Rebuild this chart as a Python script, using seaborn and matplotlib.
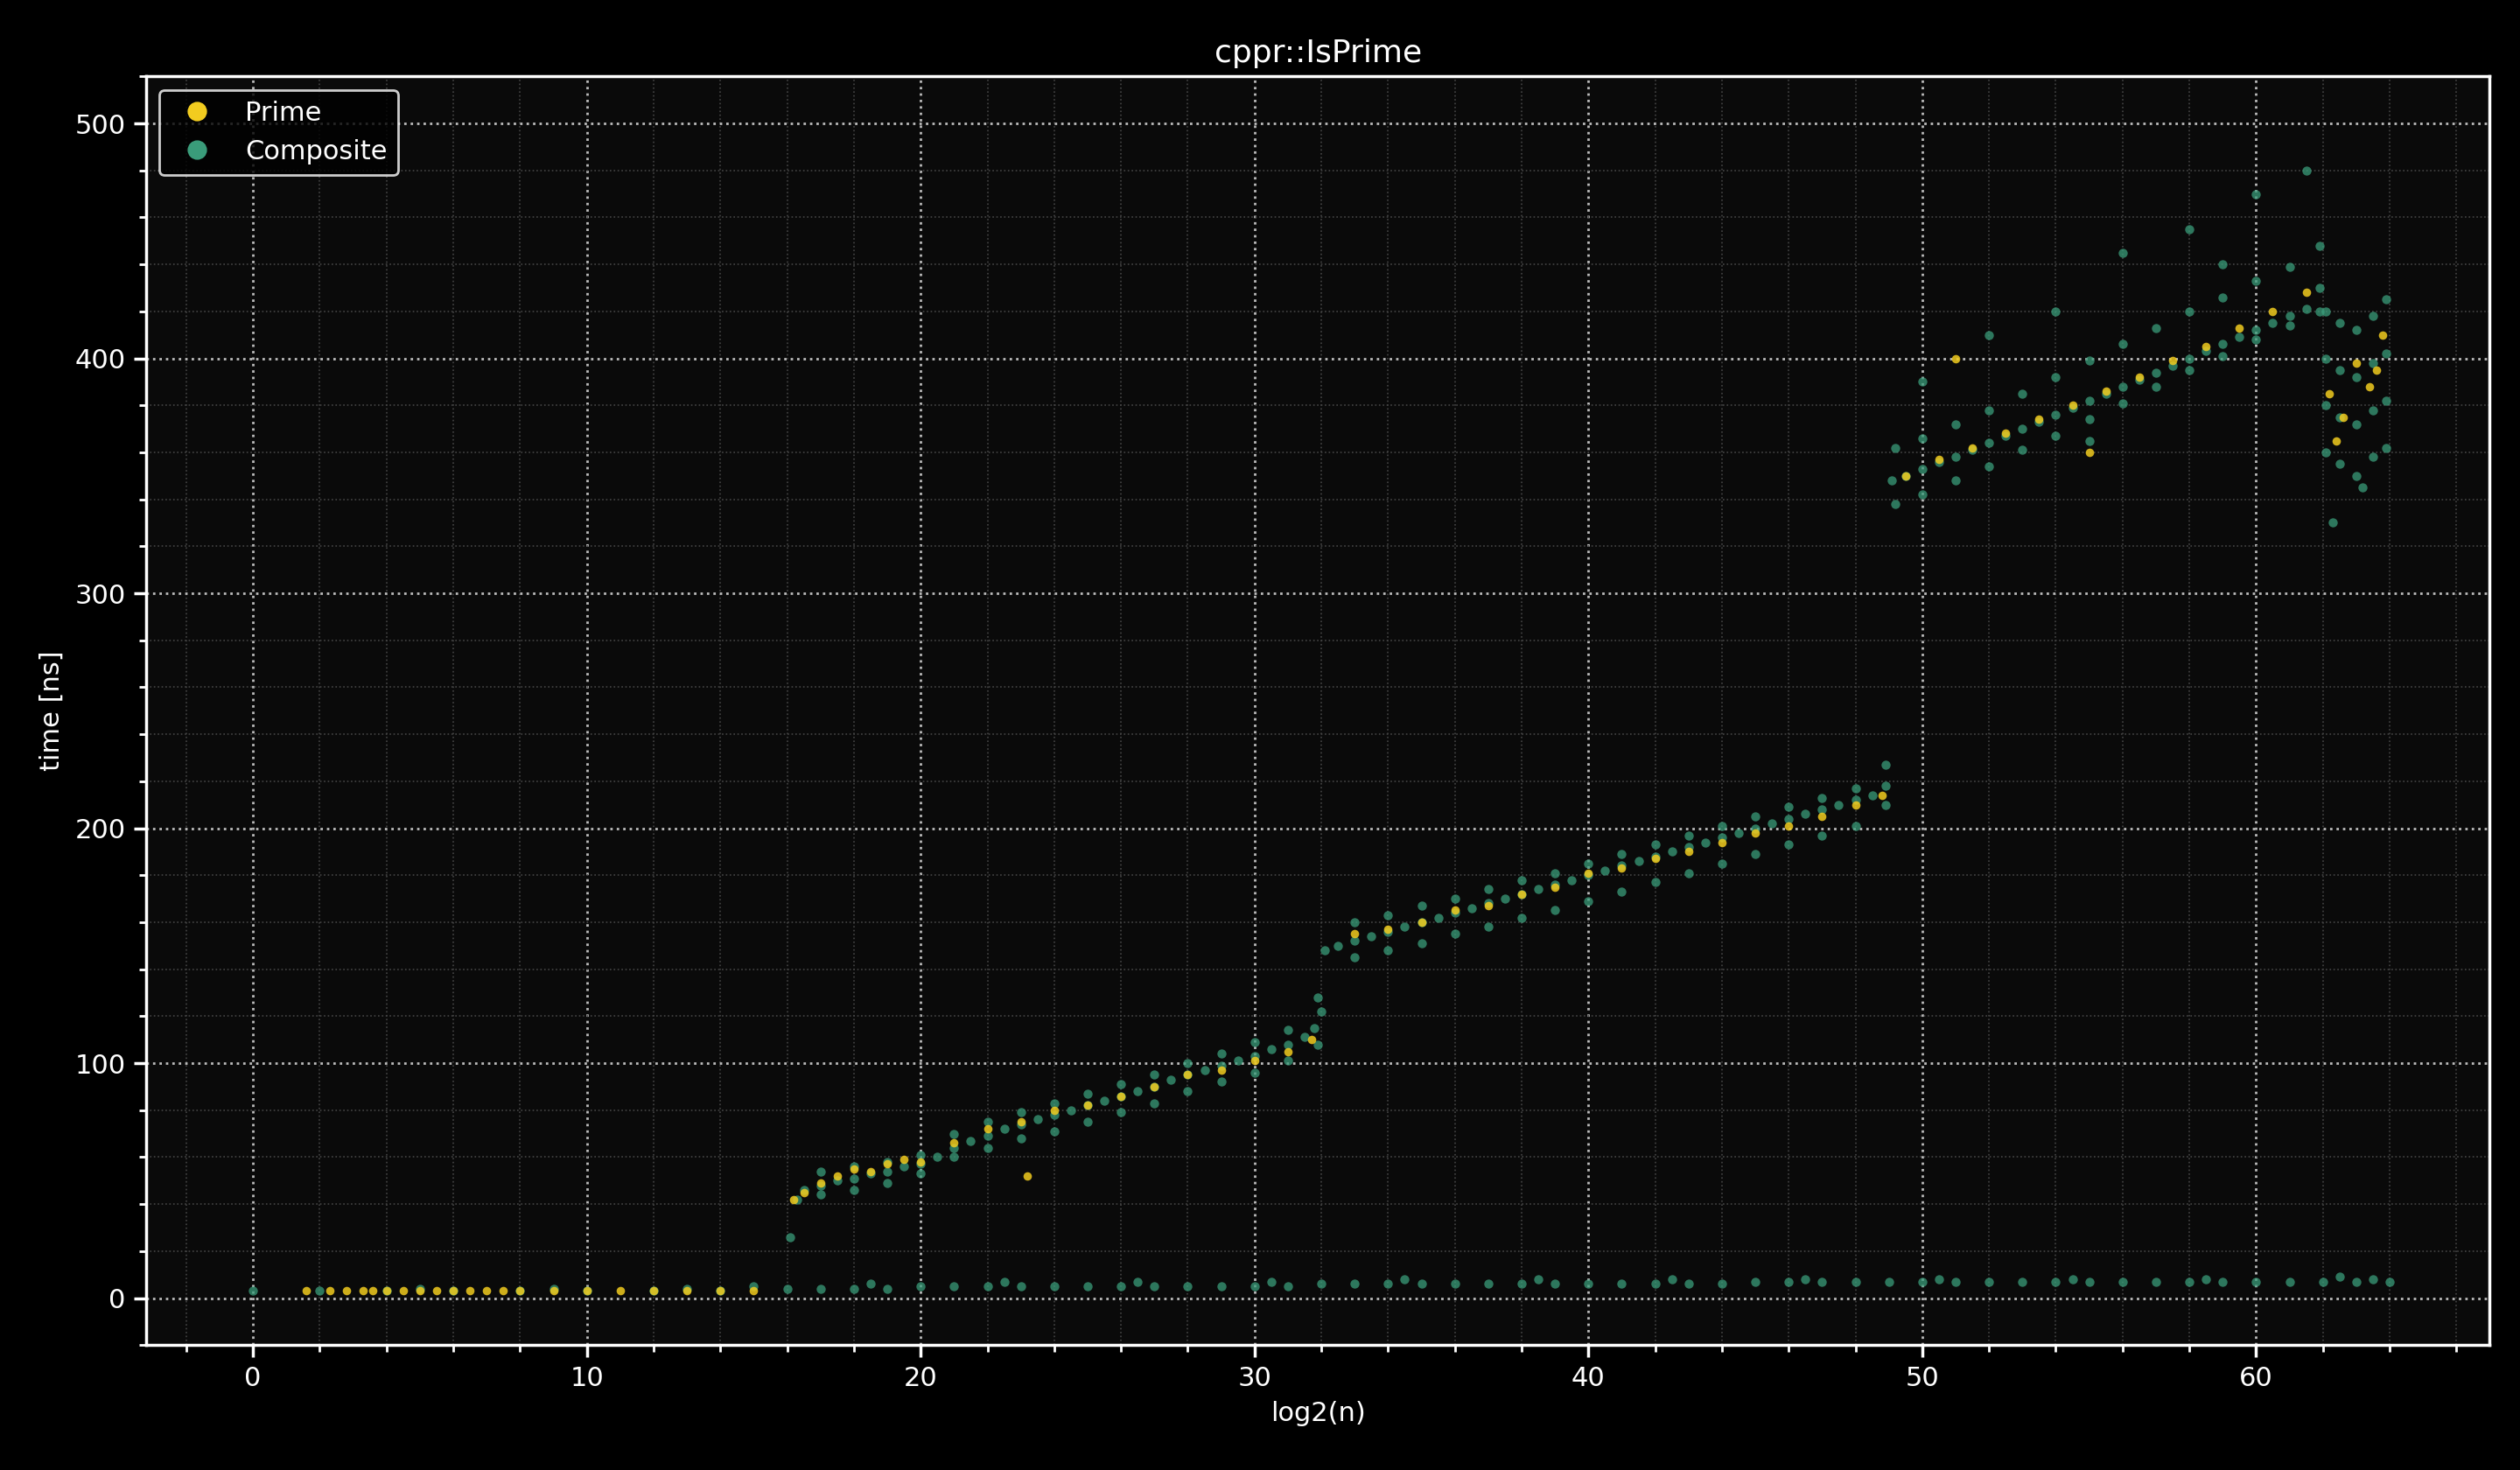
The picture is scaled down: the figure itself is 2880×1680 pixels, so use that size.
import matplotlib
matplotlib.use("Agg")
import matplotlib.pyplot as plt
import seaborn as sns
import pandas as pd
from matplotlib.ticker import MultipleLocator

# Composite points (log2(n), time ns)
comp_x = [0, 2, 4, 6, 8, 10, 12, 14, 16, 17, 18, 19, 20, 21, 22, 23, 24, 25, 26, 27, 28, 29, 30, 31, 32,
          33, 34, 35, 36, 37, 38, 39, 40, 41, 42, 43, 44, 45, 46, 47, 48, 49, 50, 51, 52, 53, 54, 55, 56, 57, 58, 59, 60, 61, 62, 63, 64,
          5, 9, 13, 15, 18.5, 22.5, 26.5, 30.5, 34.5, 38.5, 42.5, 46.5, 50.5, 54.5, 58.5, 62.5, 63.5,
          16.1, 16.3, 16.5, 17, 17.5, 18, 18.5, 19, 19.5, 20, 20.5, 21, 21.5, 22, 22.5, 23, 23.5, 24, 24.5, 25, 25.5, 26, 26.5, 27, 27.5, 28, 28.5, 29, 29.5, 30, 30.5, 31, 31.5, 31.8, 32,
          17, 18, 19, 20, 21, 22, 23, 24, 25, 26, 27, 28, 29, 30, 31, 31.9,
          17, 18, 19, 20, 21, 22, 23, 24, 25, 26, 27, 28, 29, 30, 31, 31.9,
          32.1, 32.5, 33, 33.5, 34, 34.5, 35, 35.5, 36, 36.5, 37, 37.5, 38, 38.5, 39, 39.5, 40, 40.5, 41, 41.5, 42, 42.5, 43, 43.5, 44, 44.5, 45, 45.5, 46, 46.5, 47, 47.5, 48, 48.5, 48.9,
          33, 34, 35, 36, 37, 38, 39, 40, 41, 42, 43, 44, 45, 46, 47, 48, 48.9,
          33, 34, 35, 36, 37, 38, 39, 40, 41, 42, 43, 44, 45, 46, 47, 48, 48.9,
          49.1, 49.5, 50, 50.5, 51, 51.5, 52, 52.5, 53, 53.5, 54, 54.5, 55, 55.5, 56, 56.5, 57, 57.5, 58, 58.5, 59, 59.5, 60, 60.5, 61, 61.5, 61.9,
          49.2, 50, 51, 52, 53, 54, 55, 56, 57, 58, 59, 60, 61, 61.9,
          49.2, 50, 51, 52, 53, 54, 55, 56, 57, 58, 59, 60, 61, 61.9,
          50, 52, 54, 56, 58, 60, 61.5, 59, 55,
          62.1, 62.1, 62.1, 62.1, 62.5, 62.5, 62.5, 62.5, 63, 63, 63, 63, 63.5, 63.5, 63.5, 63.5, 63.9, 63.9, 63.9, 63.9, 62.3, 63.2]
comp_y = [3, 3, 3, 3, 3, 3, 3, 3, 4, 4, 4, 4, 5, 5, 5, 5, 5, 5, 5, 5, 5, 5, 5, 5, 6,
          6, 6, 6, 6, 6, 6, 6, 6, 6, 6, 6, 6, 7, 7, 7, 7, 7, 7, 7, 7, 7, 7, 7, 7, 7, 7, 7, 7, 7, 7, 7, 7,
          4, 4, 4, 5, 6, 7, 7, 7, 8, 8, 8, 8, 8, 8, 8, 9, 8,
          26, 42, 46, 48, 50, 51, 53, 54, 56, 57, 60, 64, 67, 69, 72, 74, 76, 78, 80, 82, 84, 86, 88, 90, 93, 95, 97, 99, 101, 103, 106, 108, 111, 115, 122,
          54, 56, 58, 61, 70, 75, 79, 83, 87, 91, 95, 100, 104, 109, 114, 128,
          44, 46, 49, 53, 60, 64, 68, 71, 75, 79, 83, 88, 92, 96, 101, 108,
          148, 150, 152, 154, 156, 158, 160, 162, 164, 166, 168, 170, 172, 174, 176, 178, 180, 182, 184, 186, 188, 190, 192, 194, 196, 198, 200, 202, 204, 206, 208, 210, 212, 214, 218,
          160, 163, 167, 170, 174, 178, 181, 185, 189, 193, 197, 201, 205, 209, 213, 217, 227,
          145, 148, 151, 155, 158, 162, 165, 169, 173, 177, 181, 185, 189, 193, 197, 201, 210,
          348, 350, 353, 356, 358, 361, 364, 367, 370, 373, 376, 379, 382, 385, 388, 391, 394, 397, 400, 403, 406, 409, 412, 415, 418, 421, 430,
          362, 366, 372, 378, 385, 392, 399, 406, 413, 420, 426, 433, 439, 448,
          338, 342, 348, 354, 361, 367, 374, 381, 388, 395, 401, 408, 414, 420,
          390, 410, 420, 445, 455, 470, 480, 440, 365,
          360, 380, 400, 420, 355, 375, 395, 415, 350, 372, 392, 412, 358, 378, 398, 418, 362, 382, 402, 425, 330, 345]

# Prime points
prime_x = [1.6, 2.3, 2.8, 3.3, 3.6, 4, 4.5, 5, 5.5, 6, 6.5, 7, 7.5, 8, 9, 10, 11, 12, 13, 14, 15,
           16.2, 16.5, 17, 17.5, 18, 18.5, 19, 19.5, 20, 21, 22, 23, 24, 25, 26, 27, 28, 29, 30, 31, 31.7, 23.2,
           33, 34, 35, 36, 37, 38, 39, 40, 41, 42, 43, 44, 45, 46, 47, 48, 48.8,
           49.5, 50.5, 51.5, 52.5, 53.5, 54.5, 55.5, 56.5, 57.5, 58.5, 59.5, 60.5, 61.5, 51, 55,
           62.2, 62.6, 63, 63.4, 63.8, 62.4, 63.6]
prime_y = [3, 3, 3, 3, 3, 3, 3, 3, 3, 3, 3, 3, 3, 3, 3, 3, 3, 3, 3, 3, 3,
           42, 45, 49, 52, 55, 54, 57, 59, 58, 66, 72, 75, 80, 82, 86, 90, 95, 97, 101, 105, 110, 52,
           155, 157, 160, 165, 167, 172, 175, 181, 183, 187, 190, 194, 198, 201, 205, 210, 214,
           350, 357, 362, 368, 374, 380, 386, 392, 399, 405, 413, 420, 428, 400, 360,
           385, 375, 398, 388, 410, 365, 395]

df = pd.DataFrame({
    "x": comp_x + prime_x,
    "y": comp_y + prime_y,
    "kind": ["Composite"] * len(comp_x) + ["Prime"] * len(prime_x),
})

sns.set_theme(style="dark")
plt.rcParams.update({
    "figure.facecolor": "black", "axes.facecolor": "#0a0a0a",
    "axes.edgecolor": "white", "text.color": "white",
    "axes.labelcolor": "white", "xtick.color": "white", "ytick.color": "white",
    "font.family": ["DejaVu Sans"],
})
fig, ax = plt.subplots(figsize=(14.4, 8.4), dpi=200)
pal = {"Prime": "#f2cc1f", "Composite": "#3a9c7a"}
sns.scatterplot(data=df[df.kind == "Composite"], x="x", y="y", color=pal["Composite"],
                s=14, alpha=0.75, linewidth=0, ax=ax)
sns.scatterplot(data=df[df.kind == "Prime"], x="x", y="y", color=pal["Prime"],
                s=12, alpha=0.85, linewidth=0, ax=ax)
ax.set_xlim(-3.2, 67)
ax.set_ylim(-20, 520)
ax.xaxis.set_major_locator(MultipleLocator(10))
ax.xaxis.set_minor_locator(MultipleLocator(2))
ax.yaxis.set_major_locator(MultipleLocator(100))
ax.yaxis.set_minor_locator(MultipleLocator(20))
ax.tick_params(which="both", bottom=True, left=True, direction="out", colors="white")
ax.tick_params(which="major", length=5, labelsize=11)
ax.tick_params(which="minor", length=3)
ax.grid(which="major", color="#bbbbbb", linestyle=":", linewidth=1.0)
ax.grid(which="minor", color="#444444", linestyle=":", linewidth=0.6)
for s in ax.spines.values():
    s.set_color("white")
ax.set_xlabel("log2(n)", fontsize=11)
ax.set_ylabel("time [ns]", fontsize=11)
ax.set_title("cppr::IsPrime", fontsize=13)
from matplotlib.lines import Line2D
handles = [Line2D([], [], marker="o", linestyle="", color=pal["Prime"], markersize=7),
           Line2D([], [], marker="o", linestyle="", color=pal["Composite"], markersize=7)]
leg = ax.legend(handles, ["Prime", "Composite"], loc="upper left", fontsize=11,
                facecolor="black", edgecolor="white", labelcolor="white")
fig.subplots_adjust(left=0.058, right=0.988, top=0.948, bottom=0.085)
fig.savefig("out.png", dpi=200, facecolor="black")
